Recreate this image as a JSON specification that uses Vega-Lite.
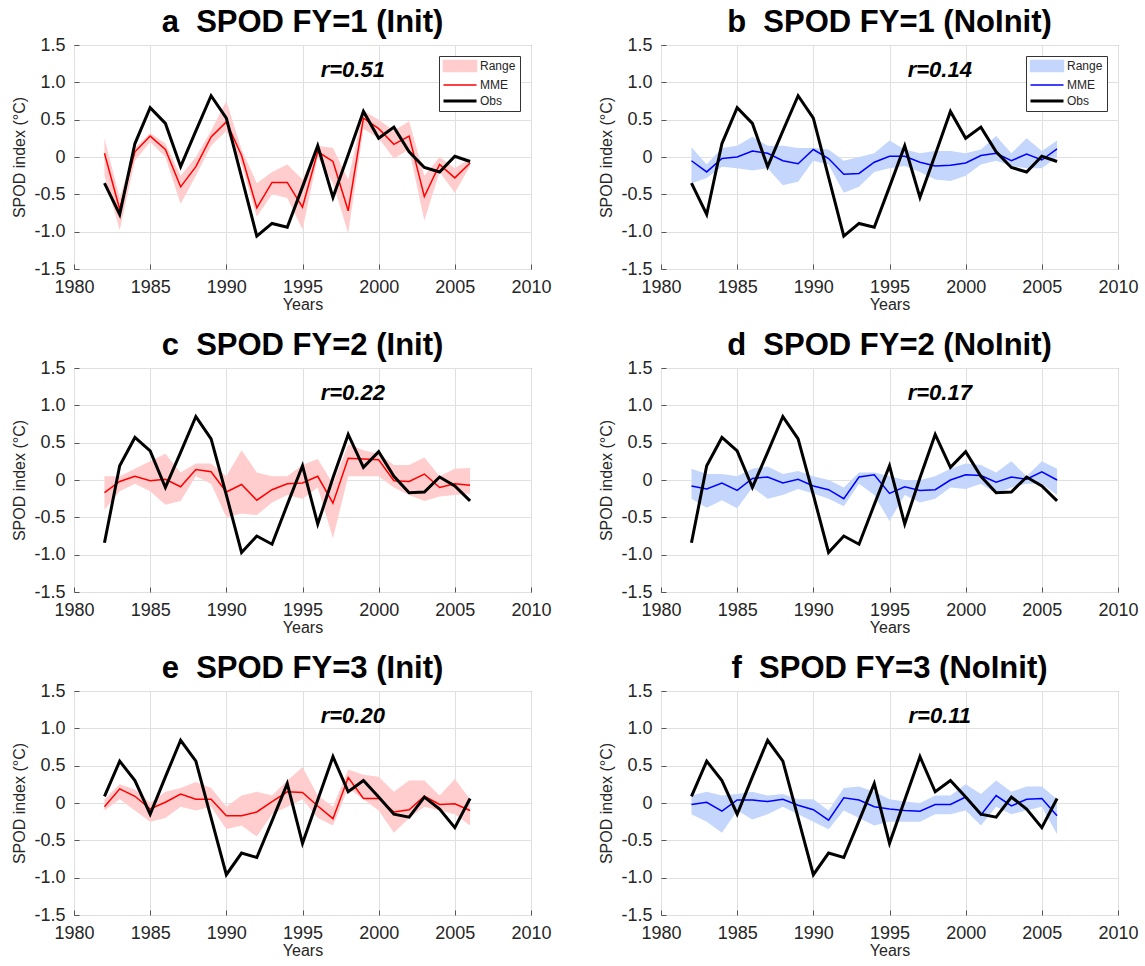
{
  "$schema": "https://vega.github.io/schema/vega-lite/v6.json",
  "background": "white",
  "padding": {"left": 11, "top": 6, "right": 5, "bottom": 5},
  "datasets": {
    "fy1init": [
      {"year":1982,"lo":-0.25,"hi":0.25,"mme":0.05,"obs":-0.35},
      {"year":1983,"lo":-0.98,"hi":-0.55,"mme":-0.70,"obs":-0.77},
      {"year":1984,"lo":-0.05,"hi":0.12,"mme":0.07,"obs":0.18},
      {"year":1985,"lo":0.20,"hi":0.32,"mme":0.28,"obs":0.66},
      {"year":1986,"lo":0.00,"hi":0.18,"mme":0.10,"obs":0.45},
      {"year":1987,"lo":-0.63,"hi":-0.25,"mme":-0.40,"obs":-0.13},
      {"year":1988,"lo":-0.25,"hi":0.00,"mme":-0.13,"obs":0.35},
      {"year":1989,"lo":0.15,"hi":0.35,"mme":0.27,"obs":0.82},
      {"year":1990,"lo":0.35,"hi":0.75,"mme":0.47,"obs":0.52},
      {"year":1991,"lo":-0.10,"hi":0.10,"mme":0.02,"obs":-0.27},
      {"year":1992,"lo":-0.80,"hi":-0.35,"mme":-0.68,"obs":-1.06},
      {"year":1993,"lo":-0.50,"hi":-0.20,"mme":-0.34,"obs":-0.89},
      {"year":1994,"lo":-0.55,"hi":-0.10,"mme":-0.34,"obs":-0.94},
      {"year":1995,"lo":-0.97,"hi":-0.30,"mme":-0.67,"obs":-0.40},
      {"year":1996,"lo":0.00,"hi":0.15,"mme":0.07,"obs":0.15},
      {"year":1997,"lo":-0.35,"hi":0.12,"mme":-0.06,"obs":-0.54},
      {"year":1998,"lo":-1.02,"hi":-0.30,"mme":-0.72,"obs":0.03},
      {"year":1999,"lo":0.38,"hi":0.62,"mme":0.52,"obs":0.61},
      {"year":2000,"lo":0.25,"hi":0.50,"mme":0.38,"obs":0.25},
      {"year":2001,"lo":-0.02,"hi":0.35,"mme":0.17,"obs":0.40},
      {"year":2002,"lo":0.10,"hi":0.48,"mme":0.28,"obs":0.07},
      {"year":2003,"lo":-0.85,"hi":-0.25,"mme":-0.53,"obs":-0.14},
      {"year":2004,"lo":-0.20,"hi":0.00,"mme":-0.10,"obs":-0.20},
      {"year":2005,"lo":-0.48,"hi":-0.15,"mme":-0.28,"obs":0.01},
      {"year":2006,"lo":-0.12,"hi":-0.02,"mme":-0.08,"obs":-0.06}
    ],
    "fy1noinit": [
      {"year":1982,"lo":-0.35,"hi":0.13,"mme":-0.05,"obs":-0.35},
      {"year":1983,"lo":-0.28,"hi":-0.10,"mme":-0.20,"obs":-0.77},
      {"year":1984,"lo":-0.13,"hi":0.12,"mme":-0.02,"obs":0.18},
      {"year":1985,"lo":-0.15,"hi":0.15,"mme":0.00,"obs":0.66},
      {"year":1986,"lo":-0.18,"hi":0.27,"mme":0.08,"obs":0.45},
      {"year":1987,"lo":-0.15,"hi":0.15,"mme":0.05,"obs":-0.13},
      {"year":1988,"lo":-0.38,"hi":0.15,"mme":-0.05,"obs":0.35},
      {"year":1989,"lo":-0.33,"hi":0.12,"mme":-0.09,"obs":0.82},
      {"year":1990,"lo":-0.05,"hi":0.12,"mme":0.10,"obs":0.52},
      {"year":1991,"lo":-0.10,"hi":0.10,"mme":-0.02,"obs":-0.27},
      {"year":1992,"lo":-0.48,"hi":-0.05,"mme":-0.23,"obs":-1.06},
      {"year":1993,"lo":-0.40,"hi":0.00,"mme":-0.22,"obs":-0.89},
      {"year":1994,"lo":-0.20,"hi":0.05,"mme":-0.07,"obs":-0.94},
      {"year":1995,"lo":-0.15,"hi":0.22,"mme":0.01,"obs":-0.40},
      {"year":1996,"lo":-0.12,"hi":0.10,"mme":0.01,"obs":0.15},
      {"year":1997,"lo":-0.20,"hi":0.05,"mme":-0.07,"obs":-0.54},
      {"year":1998,"lo":-0.30,"hi":0.08,"mme":-0.12,"obs":0.03},
      {"year":1999,"lo":-0.32,"hi":0.08,"mme":-0.11,"obs":0.61},
      {"year":2000,"lo":-0.25,"hi":0.05,"mme":-0.08,"obs":0.25},
      {"year":2001,"lo":-0.10,"hi":0.10,"mme":0.02,"obs":0.40},
      {"year":2002,"lo":-0.05,"hi":0.28,"mme":0.05,"obs":0.07},
      {"year":2003,"lo":-0.12,"hi":0.05,"mme":-0.05,"obs":-0.14},
      {"year":2004,"lo":-0.15,"hi":0.25,"mme":0.04,"obs":-0.20},
      {"year":2005,"lo":-0.15,"hi":0.08,"mme":-0.04,"obs":0.01},
      {"year":2006,"lo":0.00,"hi":0.22,"mme":0.11,"obs":-0.06}
    ],
    "fy2init": [
      {"year":1982,"lo":-0.40,"hi":0.05,"mme":-0.17,"obs":-0.84},
      {"year":1983,"lo":-0.15,"hi":0.05,"mme":-0.02,"obs":0.19},
      {"year":1984,"lo":-0.05,"hi":0.15,"mme":0.05,"obs":0.57},
      {"year":1985,"lo":-0.15,"hi":0.25,"mme":-0.01,"obs":0.39},
      {"year":1986,"lo":-0.33,"hi":0.35,"mme":0.01,"obs":-0.10},
      {"year":1987,"lo":-0.28,"hi":0.10,"mme":-0.09,"obs":0.37},
      {"year":1988,"lo":0.05,"hi":0.22,"mme":0.14,"obs":0.85},
      {"year":1989,"lo":-0.05,"hi":0.22,"mme":0.11,"obs":0.55},
      {"year":1990,"lo":-0.50,"hi":0.05,"mme":-0.16,"obs":-0.20},
      {"year":1991,"lo":-0.45,"hi":0.40,"mme":-0.06,"obs":-0.97},
      {"year":1992,"lo":-0.47,"hi":0.10,"mme":-0.27,"obs":-0.75},
      {"year":1993,"lo":-0.30,"hi":0.05,"mme":-0.13,"obs":-0.86},
      {"year":1994,"lo":-0.20,"hi":0.05,"mme":-0.05,"obs":-0.33},
      {"year":1995,"lo":-0.25,"hi":0.20,"mme":-0.04,"obs":0.19},
      {"year":1996,"lo":-0.10,"hi":0.28,"mme":0.05,"obs":-0.59},
      {"year":1997,"lo":-0.78,"hi":-0.05,"mme":-0.31,"obs":0.03},
      {"year":1998,"lo":0.05,"hi":0.48,"mme":0.29,"obs":0.61},
      {"year":1999,"lo":0.05,"hi":0.40,"mme":0.28,"obs":0.17},
      {"year":2000,"lo":0.05,"hi":0.35,"mme":0.27,"obs":0.38},
      {"year":2001,"lo":-0.10,"hi":0.20,"mme":-0.01,"obs":0.05},
      {"year":2002,"lo":-0.20,"hi":0.20,"mme":-0.02,"obs":-0.17},
      {"year":2003,"lo":-0.28,"hi":0.30,"mme":0.08,"obs":-0.16},
      {"year":2004,"lo":-0.22,"hi":0.05,"mme":-0.10,"obs":0.04},
      {"year":2005,"lo":-0.20,"hi":0.15,"mme":-0.05,"obs":-0.08},
      {"year":2006,"lo":-0.18,"hi":0.16,"mme":-0.07,"obs":-0.28}
    ],
    "fy2noinit": [
      {"year":1982,"lo":-0.25,"hi":0.15,"mme":-0.08,"obs":-0.84},
      {"year":1983,"lo":-0.37,"hi":0.08,"mme":-0.12,"obs":0.19},
      {"year":1984,"lo":-0.27,"hi":0.08,"mme":-0.04,"obs":0.57},
      {"year":1985,"lo":-0.38,"hi":0.05,"mme":-0.14,"obs":0.39},
      {"year":1986,"lo":-0.10,"hi":0.15,"mme":0.02,"obs":-0.10},
      {"year":1987,"lo":-0.25,"hi":0.18,"mme":0.04,"obs":0.37},
      {"year":1988,"lo":-0.20,"hi":0.08,"mme":-0.04,"obs":0.85},
      {"year":1989,"lo":-0.12,"hi":0.12,"mme":0.01,"obs":0.55},
      {"year":1990,"lo":-0.18,"hi":0.05,"mme":-0.08,"obs":-0.20},
      {"year":1991,"lo":-0.25,"hi":0.00,"mme":-0.13,"obs":-0.97},
      {"year":1992,"lo":-0.35,"hi":-0.10,"mme":-0.25,"obs":-0.75},
      {"year":1993,"lo":-0.05,"hi":0.10,"mme":0.04,"obs":-0.86},
      {"year":1994,"lo":-0.20,"hi":0.10,"mme":0.07,"obs":-0.33},
      {"year":1995,"lo":-0.55,"hi":0.05,"mme":-0.18,"obs":0.19},
      {"year":1996,"lo":-0.20,"hi":0.00,"mme":-0.09,"obs":-0.59},
      {"year":1997,"lo":-0.30,"hi":0.00,"mme":-0.14,"obs":0.03},
      {"year":1998,"lo":-0.25,"hi":0.05,"mme":-0.13,"obs":0.61},
      {"year":1999,"lo":-0.10,"hi":0.15,"mme":0.00,"obs":0.17},
      {"year":2000,"lo":-0.12,"hi":0.22,"mme":0.07,"obs":0.38},
      {"year":2001,"lo":-0.05,"hi":0.20,"mme":0.06,"obs":0.05},
      {"year":2002,"lo":-0.18,"hi":0.10,"mme":-0.03,"obs":-0.17},
      {"year":2003,"lo":-0.10,"hi":0.25,"mme":0.04,"obs":-0.16},
      {"year":2004,"lo":-0.05,"hi":0.05,"mme":0.01,"obs":0.04},
      {"year":2005,"lo":-0.05,"hi":0.25,"mme":0.11,"obs":-0.08},
      {"year":2006,"lo":-0.20,"hi":0.15,"mme":0.00,"obs":-0.28}
    ],
    "fy3init": [
      {"year":1982,"lo":-0.10,"hi":0.05,"mme":-0.05,"obs":0.09},
      {"year":1983,"lo":0.05,"hi":0.25,"mme":0.19,"obs":0.56},
      {"year":1984,"lo":-0.10,"hi":0.18,"mme":0.09,"obs":0.30},
      {"year":1985,"lo":-0.25,"hi":0.00,"mme":-0.08,"obs":-0.15},
      {"year":1986,"lo":-0.20,"hi":0.15,"mme":0.01,"obs":0.35},
      {"year":1987,"lo":-0.05,"hi":0.20,"mme":0.12,"obs":0.84},
      {"year":1988,"lo":-0.10,"hi":0.28,"mme":0.05,"obs":0.56},
      {"year":1989,"lo":-0.05,"hi":0.20,"mme":0.05,"obs":-0.20},
      {"year":1990,"lo":-0.35,"hi":-0.05,"mme":-0.17,"obs":-0.96},
      {"year":1991,"lo":-0.30,"hi":0.10,"mme":-0.17,"obs":-0.67},
      {"year":1992,"lo":-0.45,"hi":0.15,"mme":-0.12,"obs":-0.73},
      {"year":1993,"lo":-0.15,"hi":0.10,"mme":0.02,"obs":-0.24},
      {"year":1994,"lo":-0.05,"hi":0.30,"mme":0.15,"obs":0.26},
      {"year":1995,"lo":0.05,"hi":0.48,"mme":0.14,"obs":-0.54},
      {"year":1996,"lo":-0.20,"hi":0.10,"mme":-0.04,"obs":0.04},
      {"year":1997,"lo":-0.30,"hi":-0.05,"mme":-0.21,"obs":0.62},
      {"year":1998,"lo":0.20,"hi":0.45,"mme":0.34,"obs":0.15},
      {"year":1999,"lo":0.05,"hi":0.38,"mme":0.06,"obs":0.30},
      {"year":2000,"lo":-0.10,"hi":0.35,"mme":0.06,"obs":0.08},
      {"year":2001,"lo":-0.40,"hi":0.15,"mme":-0.12,"obs":-0.15},
      {"year":2002,"lo":-0.20,"hi":0.30,"mme":-0.09,"obs":-0.19},
      {"year":2003,"lo":-0.05,"hi":0.30,"mme":0.09,"obs":0.08},
      {"year":2004,"lo":-0.10,"hi":0.10,"mme":-0.02,"obs":-0.08},
      {"year":2005,"lo":-0.15,"hi":0.32,"mme":-0.01,"obs":-0.33},
      {"year":2006,"lo":-0.30,"hi":0.05,"mme":-0.10,"obs":0.06}
    ],
    "fy3noinit": [
      {"year":1982,"lo":-0.15,"hi":0.10,"mme":-0.02,"obs":0.09},
      {"year":1983,"lo":-0.25,"hi":0.15,"mme":0.01,"obs":0.56},
      {"year":1984,"lo":-0.40,"hi":0.10,"mme":-0.11,"obs":0.30},
      {"year":1985,"lo":-0.10,"hi":0.12,"mme":0.04,"obs":-0.15},
      {"year":1986,"lo":-0.22,"hi":0.15,"mme":0.04,"obs":0.35},
      {"year":1987,"lo":-0.15,"hi":0.10,"mme":0.02,"obs":0.84},
      {"year":1988,"lo":-0.05,"hi":0.12,"mme":0.05,"obs":0.56},
      {"year":1989,"lo":-0.15,"hi":0.05,"mme":-0.03,"obs":-0.20},
      {"year":1990,"lo":-0.25,"hi":0.05,"mme":-0.09,"obs":-0.96},
      {"year":1991,"lo":-0.35,"hi":-0.10,"mme":-0.23,"obs":-0.67},
      {"year":1992,"lo":-0.10,"hi":0.20,"mme":0.07,"obs":-0.73},
      {"year":1993,"lo":-0.20,"hi":0.22,"mme":0.04,"obs":-0.24},
      {"year":1994,"lo":-0.30,"hi":0.15,"mme":-0.05,"obs":0.26},
      {"year":1995,"lo":-0.25,"hi":0.05,"mme":-0.08,"obs":-0.54},
      {"year":1996,"lo":-0.25,"hi":0.02,"mme":-0.10,"obs":0.04},
      {"year":1997,"lo":-0.25,"hi":0.00,"mme":-0.11,"obs":0.62},
      {"year":1998,"lo":-0.15,"hi":0.10,"mme":-0.02,"obs":0.15},
      {"year":1999,"lo":-0.15,"hi":0.10,"mme":-0.02,"obs":0.30},
      {"year":2000,"lo":-0.10,"hi":0.25,"mme":0.08,"obs":0.08},
      {"year":2001,"lo":-0.30,"hi":0.12,"mme":-0.16,"obs":-0.15},
      {"year":2002,"lo":-0.05,"hi":0.30,"mme":0.10,"obs":-0.19},
      {"year":2003,"lo":-0.15,"hi":0.15,"mme":-0.04,"obs":0.08},
      {"year":2004,"lo":-0.10,"hi":0.22,"mme":0.05,"obs":-0.08},
      {"year":2005,"lo":-0.05,"hi":0.22,"mme":0.06,"obs":-0.33},
      {"year":2006,"lo":-0.42,"hi":0.05,"mme":-0.17,"obs":0.06}
    ]
  },
  "config": {
    "font": "Liberation Sans",
    "view": {"stroke": "#666666", "strokeWidth": 1},
    "axis": {
      "labelFont": "Liberation Sans", "labelFontSize": 18, "labelColor": "#262626",
      "titleFont": "Liberation Sans", "titleFontSize": 16, "titleFontWeight": "normal", "titleColor": "#262626",
      "gridColor": "#e0e0e0", "gridWidth": 1, "domain": false,
      "ticks": true, "tickSize": -5, "tickColor": "#555555", "tickWidth": 1,
      "labelFlush": false, "labelOverlap": false
    },
    "axisX": {"labelPadding": 14, "titlePadding": 0},
    "axisY": {"labelPadding": 14, "titlePadding": 6},
    "title": {"font": "Liberation Sans", "fontSize": 31, "fontWeight": "bold", "color": "#000000", "frame": "group", "anchor": "middle", "offset": -3}
  },
  "spacing": 16,
  "resolve": {"scale": {"color": "independent"}, "legend": {"color": "independent"}},
  "vconcat": [
    {
      "hconcat": [
        {
          "width": 457, "height": 224,
          "title": "a\u00a0\u00a0SPOD FY=1 (Init)",
          "data": {"name": "fy1init"},
          "layer": [
            {"mark": {"type": "area", "opacity": 1},
             "encoding": {
               "x": {"field": "year", "type": "quantitative", "scale": {"domain": [1980, 2010], "nice": false}, "axis": {"values": [1980,1985,1990,1995,2000,2005,2010], "format": "d"}, "title": "Years"},
               "y": {"field": "lo", "type": "quantitative", "scale": {"domain": [-1.5, 1.5], "nice": false, "zero": false}, "axis": {"tickCount": 7, "labelOverlap": false, "labelExpr": "datum.value === 0 ? '0' : replace(format(datum.value, '.1f'), '\u2212', '-')"}, "title": "SPOD index (°C)"},
               "y2": {"field": "hi"},
               "color": {"datum": "Range", "type": "nominal",
                 "scale": {"domain": ["Range","MME","Obs"], "range": ["#ffcdcd","#ff0000","#000000"]},
                 "legend": {"title": null, "orient": "top-right", "offset": 11, "padding": 4, "rowPadding": 4,
                   "labelFont": "Liberation Sans", "labelFontSize": 12, "labelColor": "#262626", "labelOffset": 25,
                   "symbolSize": 121, "strokeColor": "#333333", "fillColor": "#ffffff",
                   "encoding": {"symbols": {
                     "shape": {"value": {"expr": "datum.value === 'Range' ? 'M-1,-1L5,-1L5,1L-1,1Z' : 'M-1,0L5,0'"}},
                     "size": {"value": 121},
                     "fill": {"value": {"expr": "datum.value === 'Range' ? '#ffcdcd' : 'transparent'"}},
                     "stroke": {"value": {"expr": "datum.value === 'Range' ? 'transparent' : (datum.value === 'MME' ? '#ff0000' : '#000000')"}},
                     "strokeWidth": {"value": {"expr": "datum.value === 'Obs' ? 3 : 1.5"}},
                     "opacity": {"value": 1}, "fillOpacity": {"value": 1}, "strokeOpacity": {"value": 1}
                   }}}}
             }},
            {"mark": {"type": "line", "strokeWidth": 1.5},
             "encoding": {"x": {"field": "year", "type": "quantitative"}, "y": {"field": "mme", "type": "quantitative"}, "color": {"datum": "MME", "type": "nominal"}}},
            {"mark": {"type": "line", "strokeWidth": 3},
             "encoding": {"x": {"field": "year", "type": "quantitative"}, "y": {"field": "obs", "type": "quantitative"}, "color": {"datum": "Obs", "type": "nominal"}}},
            {"data": {"values": [{"year": 1998.3, "v": 1.17, "label": "r=0.51"}]},
             "mark": {"type": "text", "font": "Liberation Sans", "fontSize": 22, "fontWeight": "bold", "fontStyle": "italic", "baseline": "middle", "align": "center", "color": "#000000"},
             "encoding": {"x": {"field": "year", "type": "quantitative"}, "y": {"field": "v", "type": "quantitative"}, "text": {"field": "label"}}}
          ]
        },
        {
          "width": 457, "height": 224,
          "title": "b\u00a0\u00a0SPOD FY=1 (NoInit)",
          "data": {"name": "fy1noinit"},
          "layer": [
            {"mark": {"type": "area", "opacity": 1},
             "encoding": {
               "x": {"field": "year", "type": "quantitative", "scale": {"domain": [1980, 2010], "nice": false}, "axis": {"values": [1980,1985,1990,1995,2000,2005,2010], "format": "d"}, "title": "Years"},
               "y": {"field": "lo", "type": "quantitative", "scale": {"domain": [-1.5, 1.5], "nice": false, "zero": false}, "axis": {"tickCount": 7, "labelOverlap": false, "labelExpr": "datum.value === 0 ? '0' : replace(format(datum.value, '.1f'), '\u2212', '-')"}, "title": "SPOD index (°C)"},
               "y2": {"field": "hi"},
               "color": {"datum": "Range", "type": "nominal",
                 "scale": {"domain": ["Range","MME","Obs"], "range": ["#c4d6fb","#0000ff","#000000"]},
                 "legend": {"title": null, "orient": "top-right", "offset": 11, "padding": 4, "rowPadding": 4,
                   "labelFont": "Liberation Sans", "labelFontSize": 12, "labelColor": "#262626", "labelOffset": 25,
                   "symbolSize": 121, "strokeColor": "#333333", "fillColor": "#ffffff",
                   "encoding": {"symbols": {
                     "shape": {"value": {"expr": "datum.value === 'Range' ? 'M-1,-1L5,-1L5,1L-1,1Z' : 'M-1,0L5,0'"}},
                     "size": {"value": 121},
                     "fill": {"value": {"expr": "datum.value === 'Range' ? '#b8cdfa' : 'transparent'"}},
                     "stroke": {"value": {"expr": "datum.value === 'Range' ? 'transparent' : (datum.value === 'MME' ? '#0000ff' : '#000000')"}},
                     "strokeWidth": {"value": {"expr": "datum.value === 'Obs' ? 3 : 1.5"}},
                     "opacity": {"value": 1}, "fillOpacity": {"value": 1}, "strokeOpacity": {"value": 1}
                   }}}}
             }},
            {"mark": {"type": "line", "strokeWidth": 1.5},
             "encoding": {"x": {"field": "year", "type": "quantitative"}, "y": {"field": "mme", "type": "quantitative"}, "color": {"datum": "MME", "type": "nominal"}}},
            {"mark": {"type": "line", "strokeWidth": 3},
             "encoding": {"x": {"field": "year", "type": "quantitative"}, "y": {"field": "obs", "type": "quantitative"}, "color": {"datum": "Obs", "type": "nominal"}}},
            {"data": {"values": [{"year": 1998.3, "v": 1.17, "label": "r=0.14"}]},
             "mark": {"type": "text", "font": "Liberation Sans", "fontSize": 22, "fontWeight": "bold", "fontStyle": "italic", "baseline": "middle", "align": "center", "color": "#000000"},
             "encoding": {"x": {"field": "year", "type": "quantitative"}, "y": {"field": "v", "type": "quantitative"}, "text": {"field": "label"}}}
          ]
        }
      ],
      "spacing": 130, "bounds": "flush",
      "resolve": {"scale": {"color": "independent"}, "legend": {"color": "independent"}}
    },
    {
      "hconcat": [
        {
          "width": 457, "height": 224,
          "title": "c\u00a0\u00a0SPOD FY=2 (Init)",
          "data": {"name": "fy2init"},
          "layer": [
            {"mark": {"type": "area", "opacity": 1},
             "encoding": {
               "x": {"field": "year", "type": "quantitative", "scale": {"domain": [1980, 2010], "nice": false}, "axis": {"values": [1980,1985,1990,1995,2000,2005,2010], "format": "d"}, "title": "Years"},
               "y": {"field": "lo", "type": "quantitative", "scale": {"domain": [-1.5, 1.5], "nice": false, "zero": false}, "axis": {"tickCount": 7, "labelOverlap": false, "labelExpr": "datum.value === 0 ? '0' : replace(format(datum.value, '.1f'), '\u2212', '-')"}, "title": "SPOD index (°C)"},
               "y2": {"field": "hi"},
               "color": {"datum": "Range", "type": "nominal", "scale": {"domain": ["Range","MME","Obs"], "range": ["#ffcdcd","#ff0000","#000000"]}, "legend": null}
             }},
            {"mark": {"type": "line", "strokeWidth": 1.5},
             "encoding": {"x": {"field": "year", "type": "quantitative"}, "y": {"field": "mme", "type": "quantitative"}, "color": {"datum": "MME", "type": "nominal"}}},
            {"mark": {"type": "line", "strokeWidth": 3},
             "encoding": {"x": {"field": "year", "type": "quantitative"}, "y": {"field": "obs", "type": "quantitative"}, "color": {"datum": "Obs", "type": "nominal"}}},
            {"data": {"values": [{"year": 1998.3, "v": 1.17, "label": "r=0.22"}]},
             "mark": {"type": "text", "font": "Liberation Sans", "fontSize": 22, "fontWeight": "bold", "fontStyle": "italic", "baseline": "middle", "align": "center", "color": "#000000"},
             "encoding": {"x": {"field": "year", "type": "quantitative"}, "y": {"field": "v", "type": "quantitative"}, "text": {"field": "label"}}}
          ]
        },
        {
          "width": 457, "height": 224,
          "title": "d\u00a0\u00a0SPOD FY=2 (NoInit)",
          "data": {"name": "fy2noinit"},
          "layer": [
            {"mark": {"type": "area", "opacity": 1},
             "encoding": {
               "x": {"field": "year", "type": "quantitative", "scale": {"domain": [1980, 2010], "nice": false}, "axis": {"values": [1980,1985,1990,1995,2000,2005,2010], "format": "d"}, "title": "Years"},
               "y": {"field": "lo", "type": "quantitative", "scale": {"domain": [-1.5, 1.5], "nice": false, "zero": false}, "axis": {"tickCount": 7, "labelOverlap": false, "labelExpr": "datum.value === 0 ? '0' : replace(format(datum.value, '.1f'), '\u2212', '-')"}, "title": "SPOD index (°C)"},
               "y2": {"field": "hi"},
               "color": {"datum": "Range", "type": "nominal", "scale": {"domain": ["Range","MME","Obs"], "range": ["#c4d6fb","#0000ff","#000000"]}, "legend": null}
             }},
            {"mark": {"type": "line", "strokeWidth": 1.5},
             "encoding": {"x": {"field": "year", "type": "quantitative"}, "y": {"field": "mme", "type": "quantitative"}, "color": {"datum": "MME", "type": "nominal"}}},
            {"mark": {"type": "line", "strokeWidth": 3},
             "encoding": {"x": {"field": "year", "type": "quantitative"}, "y": {"field": "obs", "type": "quantitative"}, "color": {"datum": "Obs", "type": "nominal"}}},
            {"data": {"values": [{"year": 1998.3, "v": 1.17, "label": "r=0.17"}]},
             "mark": {"type": "text", "font": "Liberation Sans", "fontSize": 22, "fontWeight": "bold", "fontStyle": "italic", "baseline": "middle", "align": "center", "color": "#000000"},
             "encoding": {"x": {"field": "year", "type": "quantitative"}, "y": {"field": "v", "type": "quantitative"}, "text": {"field": "label"}}}
          ]
        }
      ],
      "spacing": 130, "bounds": "flush",
      "resolve": {"scale": {"color": "independent"}, "legend": {"color": "independent"}}
    },
    {
      "hconcat": [
        {
          "width": 457, "height": 224,
          "title": "e\u00a0\u00a0SPOD FY=3 (Init)",
          "data": {"name": "fy3init"},
          "layer": [
            {"mark": {"type": "area", "opacity": 1},
             "encoding": {
               "x": {"field": "year", "type": "quantitative", "scale": {"domain": [1980, 2010], "nice": false}, "axis": {"values": [1980,1985,1990,1995,2000,2005,2010], "format": "d"}, "title": "Years"},
               "y": {"field": "lo", "type": "quantitative", "scale": {"domain": [-1.5, 1.5], "nice": false, "zero": false}, "axis": {"tickCount": 7, "labelOverlap": false, "labelExpr": "datum.value === 0 ? '0' : replace(format(datum.value, '.1f'), '\u2212', '-')"}, "title": "SPOD index (°C)"},
               "y2": {"field": "hi"},
               "color": {"datum": "Range", "type": "nominal", "scale": {"domain": ["Range","MME","Obs"], "range": ["#ffcdcd","#ff0000","#000000"]}, "legend": null}
             }},
            {"mark": {"type": "line", "strokeWidth": 1.5},
             "encoding": {"x": {"field": "year", "type": "quantitative"}, "y": {"field": "mme", "type": "quantitative"}, "color": {"datum": "MME", "type": "nominal"}}},
            {"mark": {"type": "line", "strokeWidth": 3},
             "encoding": {"x": {"field": "year", "type": "quantitative"}, "y": {"field": "obs", "type": "quantitative"}, "color": {"datum": "Obs", "type": "nominal"}}},
            {"data": {"values": [{"year": 1998.3, "v": 1.17, "label": "r=0.20"}]},
             "mark": {"type": "text", "font": "Liberation Sans", "fontSize": 22, "fontWeight": "bold", "fontStyle": "italic", "baseline": "middle", "align": "center", "color": "#000000"},
             "encoding": {"x": {"field": "year", "type": "quantitative"}, "y": {"field": "v", "type": "quantitative"}, "text": {"field": "label"}}}
          ]
        },
        {
          "width": 457, "height": 224,
          "title": "f\u00a0\u00a0SPOD FY=3 (NoInit)",
          "data": {"name": "fy3noinit"},
          "layer": [
            {"mark": {"type": "area", "opacity": 1},
             "encoding": {
               "x": {"field": "year", "type": "quantitative", "scale": {"domain": [1980, 2010], "nice": false}, "axis": {"values": [1980,1985,1990,1995,2000,2005,2010], "format": "d"}, "title": "Years"},
               "y": {"field": "lo", "type": "quantitative", "scale": {"domain": [-1.5, 1.5], "nice": false, "zero": false}, "axis": {"tickCount": 7, "labelOverlap": false, "labelExpr": "datum.value === 0 ? '0' : replace(format(datum.value, '.1f'), '\u2212', '-')"}, "title": "SPOD index (°C)"},
               "y2": {"field": "hi"},
               "color": {"datum": "Range", "type": "nominal", "scale": {"domain": ["Range","MME","Obs"], "range": ["#c4d6fb","#0000ff","#000000"]}, "legend": null}
             }},
            {"mark": {"type": "line", "strokeWidth": 1.5},
             "encoding": {"x": {"field": "year", "type": "quantitative"}, "y": {"field": "mme", "type": "quantitative"}, "color": {"datum": "MME", "type": "nominal"}}},
            {"mark": {"type": "line", "strokeWidth": 3},
             "encoding": {"x": {"field": "year", "type": "quantitative"}, "y": {"field": "obs", "type": "quantitative"}, "color": {"datum": "Obs", "type": "nominal"}}},
            {"data": {"values": [{"year": 1998.3, "v": 1.17, "label": "r=0.11"}]},
             "mark": {"type": "text", "font": "Liberation Sans", "fontSize": 22, "fontWeight": "bold", "fontStyle": "italic", "baseline": "middle", "align": "center", "color": "#000000"},
             "encoding": {"x": {"field": "year", "type": "quantitative"}, "y": {"field": "v", "type": "quantitative"}, "text": {"field": "label"}}}
          ]
        }
      ],
      "spacing": 130, "bounds": "flush",
      "resolve": {"scale": {"color": "independent"}, "legend": {"color": "independent"}}
    }
  ]
}
